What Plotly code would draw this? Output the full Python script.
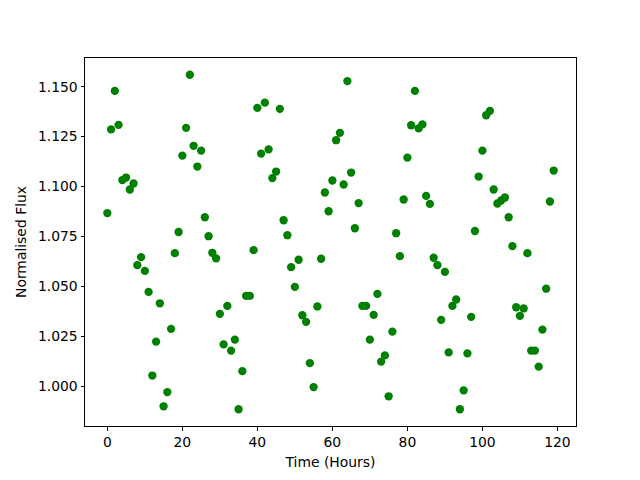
import plotly.graph_objects as go

time_hours = list(range(120))
flux = [
    1.0867, 1.1286, 1.1479, 1.1309, 1.1032, 1.1045, 1.0985, 1.1015, 1.0606, 1.0646,
    1.0577, 1.0472, 1.0053, 1.0223, 1.0415, 0.9899, 0.9970, 1.0287, 1.0666, 1.0772,
    1.1155, 1.1294, 1.1560, 1.1204, 1.1100, 1.1180, 1.0846, 1.0751, 1.0668, 1.0640,
    1.0362, 1.0209, 1.0402, 1.0178, 1.0233, 0.9884, 1.0075, 1.0452, 1.0452, 1.0681,
    1.1394, 1.1165, 1.1420, 1.1186, 1.1042, 1.1075, 1.1389, 1.0831, 1.0756, 1.0596,
    1.0497, 1.0633, 1.0355, 1.0322, 1.0115, 0.9995, 1.0399, 1.0638, 1.0970, 1.0876,
    1.1030, 1.1232, 1.1269, 1.1010, 1.1528, 1.1070, 1.0791, 1.0917, 1.0402, 1.0402,
    1.0233, 1.0357, 1.0462, 1.0123, 1.0154, 0.9949, 1.0273, 1.0766, 1.0651, 1.0935,
    1.1145, 1.1307, 1.1479, 1.1291, 1.1311, 1.0953, 1.0913, 1.0643, 1.0606, 1.0332,
    1.0572, 1.0169, 1.0402, 1.0434, 0.9884, 0.9979, 1.0164, 1.0347, 1.0777, 1.1050,
    1.1180, 1.1357, 1.1379, 1.0985, 1.0915, 1.0930, 1.0945, 1.0846, 1.0701, 1.0395,
    1.0352, 1.0389, 1.0666, 1.0178, 1.0178, 1.0098, 1.0283, 1.0488, 1.0925, 1.1080,
]

x_title = "Time (Hours)"
y_title = "Normalised Flux"

xmin, xmax = min(time_hours), max(time_hours)
ymin, ymax = min(flux), max(flux)
xpad = 0.05 * (xmax - xmin)
ypad = 0.05 * (ymax - ymin)

font = dict(family="DejaVu Sans", size=13.9, color="black")

fig = go.Figure(
    go.Scatter(
        x=time_hours,
        y=flux,
        mode="markers",
        marker=dict(color="#008000", size=8.3, line=dict(width=0)),
        showlegend=False,
    )
)

axis_common = dict(
    showgrid=False,
    zeroline=False,
    showline=True,
    linecolor="black",
    linewidth=1,
    mirror=True,
    ticks="outside",
    ticklen=3.5,
    tickwidth=1,
    tickcolor="black",
    tickfont=font,
)

# page body has an 8px margin, so the figure is sized/offset to compensate
fig.update_layout(
    width=632,
    height=472,
    margin=dict(l=72, r=64, t=50, b=53, pad=0),
    paper_bgcolor="white",
    plot_bgcolor="white",
    font=font,
    xaxis=dict(
        range=[xmin - xpad, xmax + xpad],
        tick0=0,
        dtick=20,
        title=dict(text=x_title, font=font, standoff=8),
        **axis_common,
    ),
    yaxis=dict(
        range=[ymin - ypad, ymax + ypad],
        tick0=1.0,
        dtick=0.025,
        tickformat=".3f",
        title=dict(text=y_title, font=font, standoff=8),
        **axis_common,
    ),
)

fig.write_html("out.html")
